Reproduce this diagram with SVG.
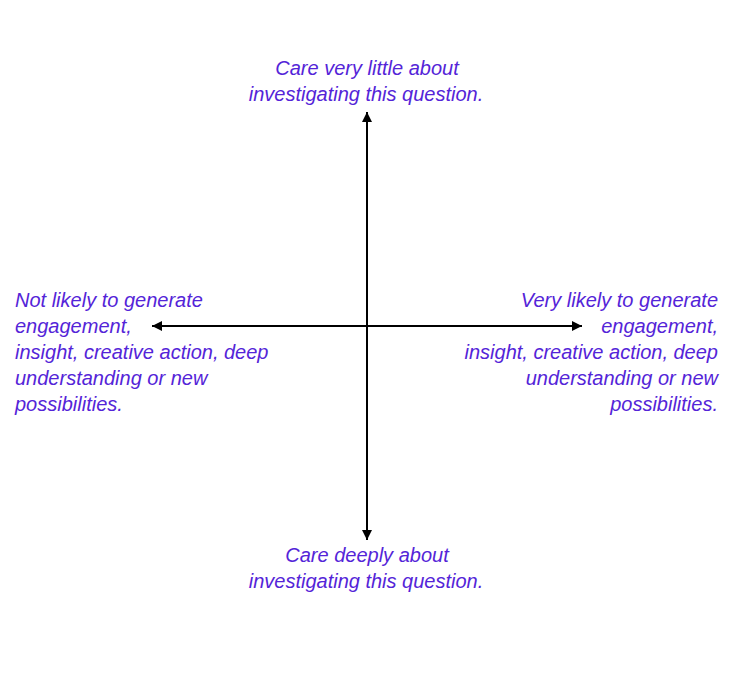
<svg xmlns="http://www.w3.org/2000/svg" width="756" height="683" viewBox="0 0 756 683">
<style>
text{font-family:"Liberation Sans",Arial,sans-serif;font-style:italic;font-size:20px;fill:#5424d8;}
.c{text-anchor:middle}
.r{text-anchor:end}
.ax{stroke:#000;stroke-width:2;fill:none;marker-end:url(#ah)}
</style>
<defs>
<marker id="ah" viewBox="0 0 10 10" refX="10" refY="5" markerWidth="5.5" markerHeight="5" markerUnits="strokeWidth" orient="auto">
<path d="M0,0 L10,5 L0,10 Z" fill="#000"/>
</marker>
</defs>
<rect width="756" height="683" fill="#fff"/>
<g id="connectors">
<line class="ax" x1="367" y1="326" x2="367" y2="112"/>
<line class="ax" x1="367" y1="326" x2="367" y2="540"/>
<line class="ax" x1="367" y1="326" x2="152" y2="326"/>
<line class="ax" x1="367" y1="326" x2="582" y2="326"/>
</g>
<g id="top">
<text class="c" x="367" y="75">Care very little about</text>
<text class="c" x="366" y="101">investigating this question.</text>
</g>
<g id="bottom">
<text class="c" x="367" y="562">Care deeply about</text>
<text class="c" x="366" y="588">investigating this question.</text>
</g>
<g id="left">
<text x="15" y="307">Not likely to generate</text>
<text x="15" y="333">engagement,</text>
<text x="15" y="359">insight, creative action, deep</text>
<text x="15" y="385">understanding or new</text>
<text x="15" y="411">possibilities.</text>
</g>
<g id="right">
<text class="r" x="718" y="307">Very likely to generate</text>
<text class="r" x="718" y="333">engagement,</text>
<text class="r" x="718" y="359">insight, creative action, deep</text>
<text class="r" x="718" y="385">understanding or new</text>
<text class="r" x="718" y="411">possibilities.</text>
</g>
</svg>
